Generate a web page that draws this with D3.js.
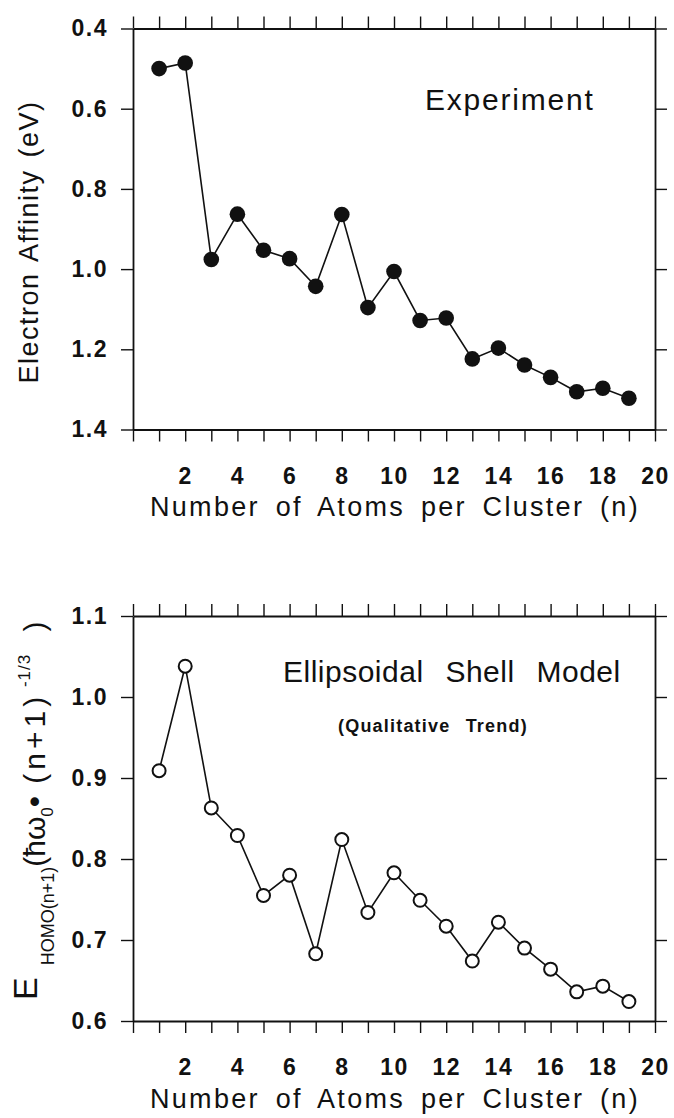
<!DOCTYPE html>
<html>
<head>
<meta charset="utf-8">
<script src="https://d3js.org/d3.v7.min.js"></script>
<style>
  body { margin: 0; background: #fff; }
  svg text { font-family: "Liberation Sans", Arial, Helvetica, sans-serif; fill: #111; }
</style>
</head>
<body>
<div id="my_dataviz"></div>
<script>

// data
var atoms = [1, 2, 3, 4, 5, 6, 7, 8, 9, 10, 11, 12, 13, 14, 15, 16, 17, 18, 19];
var expAffinity = [0.500, 0.486, 0.976, 0.863, 0.953, 0.974, 1.043, 0.864, 1.096, 1.006,
                   1.128, 1.122, 1.224, 1.197, 1.239, 1.270, 1.306, 1.297, 1.322];
var shellEnergy = [0.909, 1.038, 0.863, 0.829, 0.755, 0.780, 0.683, 0.824, 0.734, 0.783,
                   0.749, 0.717, 0.674, 0.722, 0.690, 0.664, 0.636, 0.643, 0.624];

var xTicks = d3.range(0, 21);
var xTickLabels = [2, 4, 6, 8, 10, 12, 14, 16, 18, 20];
var topYTicks = [0.4, 0.6, 0.8, 1.0, 1.2, 1.4];
var bottomYTicks = [0.6, 0.7, 0.8, 0.9, 1.0, 1.1];

var width = 674,
    height = 1118;

var svg = d3.select("#my_dataviz")
    .append("svg")
    .attr("width", width)
    .attr("height", height);

//////////
// SCALES //
//////////
var x = d3.scaleLinear().domain([0, 20]).range([133, 655]);
var yTop = d3.scaleLinear().domain([0.4, 1.4]).range([28.5, 429.5]);
var yBottom = d3.scaleLinear().domain([0.6, 1.1]).range([1021, 616]);

function styleAxis(g) {
    g.attr("font-size", null).attr("font-family", null);
    g.select(".domain").attr("stroke", "#111").attr("stroke-width", 1.8);
    g.selectAll(".tick line").attr("stroke", "#111").attr("stroke-width", 1.4);
    g.selectAll(".tick text")
        .style("font-size", "23px")
        .style("font-weight", "bold")
        .style("letter-spacing", "1.5px");
}

// frame with ticks on all four sides, labels only bottom and left
function drawFrame(y, yTicks, fmt) {
    var y0 = y.range()[0], y1 = y.range()[1];
    var topY = Math.min(y0, y1), botY = Math.max(y0, y1);

    svg.append("g")
        .attr("transform", "translate(0," + botY + ")")
        .call(d3.axisBottom(x).tickValues(xTicks).tickSize(12).tickSizeOuter(0).tickPadding(26)
            .tickFormat(function (d) { return xTickLabels.indexOf(d) >= 0 ? d : ""; }))
        .call(styleAxis);

    svg.append("g")
        .attr("transform", "translate(0," + topY + ")")
        .call(d3.axisTop(x).tickValues(xTicks).tickSize(12).tickSizeOuter(0).tickFormat(""))
        .call(styleAxis);

    svg.append("g")
        .attr("transform", "translate(" + x(0) + ",0)")
        .call(d3.axisLeft(y).tickValues(yTicks).tickSize(12).tickSizeOuter(0).tickPadding(13)
            .tickFormat(d3.format(fmt)))
        .call(styleAxis);

    svg.append("g")
        .attr("transform", "translate(" + x(20) + ",0)")
        .call(d3.axisRight(y).tickValues(yTicks).tickSize(12).tickSizeOuter(0).tickFormat(""))
        .call(styleAxis);
}

//////////
// TOP PANEL : EXPERIMENT //
//////////
drawFrame(yTop, topYTicks, ".1f");

var lineTop = d3.line()
    .x(function (d, i) { return x(atoms[i]); })
    .y(function (d) { return yTop(d); });

svg.append("path")
    .datum(expAffinity)
    .attr("fill", "none")
    .attr("stroke", "#111")
    .attr("stroke-width", 1.6)
    .attr("d", lineTop);

svg.selectAll("dotTop")
    .data(expAffinity)
    .enter()
    .append("circle")
    .attr("cx", function (d, i) { return x(atoms[i]); })
    .attr("cy", function (d) { return yTop(d); })
    .attr("r", 7.8)
    .attr("fill", "#111");

svg.append("text")
    .attr("x", 425).attr("y", 110)
    .style("font-size", "30px")
    .style("letter-spacing", "1.8px")
    .text("Experiment");

svg.append("text")
    .attr("x", 150).attr("y", 516)
    .style("font-size", "27px")
    .style("letter-spacing", "2.3px")
    .style("word-spacing", "6px")
    .text("Number of Atoms per Cluster (n)");

svg.append("text")
    .attr("transform", "translate(38,242) rotate(-90)")
    .attr("text-anchor", "middle")
    .style("font-size", "27px")
    .style("letter-spacing", "1.5px")
    .style("word-spacing", "3px")
    .text("Electron Affinity (eV)");

//////////
// BOTTOM PANEL : SHELL MODEL //
//////////
drawFrame(yBottom, bottomYTicks, ".1f");

var lineBottom = d3.line()
    .x(function (d, i) { return x(atoms[i]); })
    .y(function (d) { return yBottom(d); });

svg.append("path")
    .datum(shellEnergy)
    .attr("fill", "none")
    .attr("stroke", "#111")
    .attr("stroke-width", 1.6)
    .attr("d", lineBottom);

svg.selectAll("dotBottom")
    .data(shellEnergy)
    .enter()
    .append("circle")
    .attr("cx", function (d, i) { return x(atoms[i]); })
    .attr("cy", function (d) { return yBottom(d); })
    .attr("r", 6.5)
    .attr("fill", "#fff")
    .attr("stroke", "#111")
    .attr("stroke-width", 2);

svg.append("text")
    .attr("x", 283).attr("y", 682)
    .style("font-size", "30px")
    .style("letter-spacing", "0.5px")
    .style("word-spacing", "13px")
    .text("Ellipsoidal Shell Model");

svg.append("text")
    .attr("x", 338).attr("y", 732)
    .style("font-size", "18px")
    .style("font-weight", "bold")
    .style("letter-spacing", "1.2px")
    .style("word-spacing", "9px")
    .text("(Qualitative Trend)");

svg.append("text")
    .attr("x", 150).attr("y", 1108)
    .style("font-size", "27px")
    .style("letter-spacing", "2.3px")
    .style("word-spacing", "6px")
    .text("Number of Atoms per Cluster (n)");

// rotated label E_HOMO(n+1)(ħω0 • (n+1)^-1/3 )
var yLab = svg.append("text")
    .attr("transform", "translate(37,1000) rotate(-90)");
yLab.append("tspan").style("font-size", "34px").style("letter-spacing", "12px").text("E");
yLab.append("tspan").attr("dy", 17).style("font-size", "18px").text("HOMO(n+1)");
yLab.append("tspan").attr("dy", -9).style("font-size", "30px").text("(ħω");
yLab.append("tspan").attr("dy", 8).style("font-size", "17px").text("0");
yLab.append("tspan").attr("dy", -8).style("font-size", "32px").text("•");
yLab.append("tspan").style("font-size", "30px").style("letter-spacing", "4px").text(" (n+1)");
yLab.append("tspan").attr("dy", -15).style("font-size", "17px").style("letter-spacing", "1px").text(" -1/3");
yLab.append("tspan").attr("dy", 15).style("font-size", "30px").style("word-spacing", "14px").text("  )");

</script>
</body>
</html>
